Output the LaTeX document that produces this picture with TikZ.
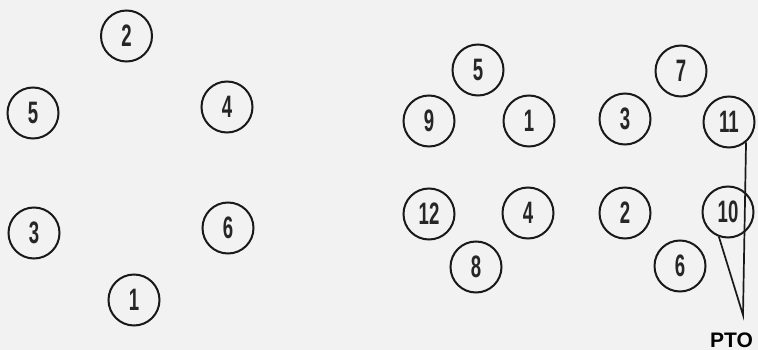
\documentclass[tikz,border=0pt]{standalone}
\usepackage{fontspec}
\newfontfamily\numfont[FakeStretch=0.6]{Liberation Sans}
\newfontfamily\labfont{Liberation Sans}
\begin{document}
\begin{tikzpicture}[x=1pt,y=-1pt,
  num/.style={circle,draw=black!90,line width=2pt,minimum size=51pt,inner sep=0pt,
    font=\numfont\bfseries\fontsize{31}{31}\selectfont,text=black!85},
  lead/.style={line width=1.7pt,draw=black!90}]
\fill[black!5] (0,0) rectangle (758,350);
\useasboundingbox (0,0) rectangle (758,350);
% left group
\node[num] (L2) at (126.5,36) {2};
\node[num] (L5) at (33,113) {5};
\node[num] (L4) at (227,107) {4};
\node[num] (L3) at (34,233) {3};
\node[num] (L6) at (228,228) {6};
\node[num] (L1) at (134,300) {1};
% right group
\node[num] (R5) at (478,70) {5};
\node[num] (R9) at (429,121) {9};
\node[num] (R1) at (529,121) {1};
\node[num] (R3) at (625,119) {3};
\node[num] (R7) at (681,71) {7};
\node[num] (R11) at (729,122) {11};
\node[num] (R12) at (429,214) {12};
\node[num] (R4) at (528,213) {4};
\node[num] (R2) at (625,213) {2};
\node[num] (R10) at (728,212) {10};
\node[num] (R8) at (476,267) {8};
\node[num] (R6) at (680,266) {6};
\node[font=\labfont\bfseries\fontsize{21}{21}\selectfont,inner sep=0pt,anchor=base] (PTO) at (731.5,347) {PTO};
\coordinate (tip) at (743,315);
\draw[lead] (R11.-50) -- (tip) -- (R10.-110);
\end{tikzpicture}
\end{document}
